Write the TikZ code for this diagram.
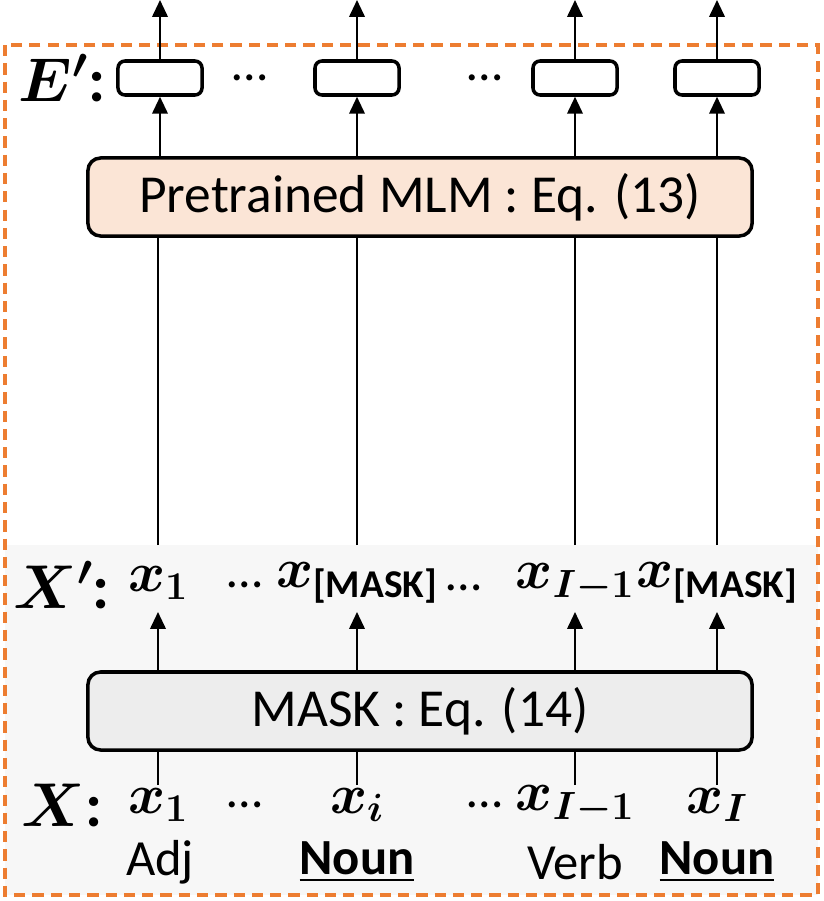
\RequirePackage{fix-cm}
\documentclass[tikz,border=0pt]{standalone}
\usepackage{amsmath,bm}
\usepackage{fontspec}
\setmainfont{Carlito}
\usetikzlibrary{arrows.meta}
\definecolor{peach}{HTML}{FBE5D6}
\definecolor{boxgray}{HTML}{EDEDED}
\definecolor{bggray}{HTML}{F7F7F7}
\definecolor{dashorange}{HTML}{ED7D31}
\tikzset{
  blk/.style={draw, line width=2.5pt, rounded corners=9pt, minimum width=16.6cm, minimum height=1.95cm, font=\fontsize{38}{44}\selectfont},
  outbox/.style={draw, line width=2.5pt, rounded corners=5pt, minimum width=2.1cm, minimum height=0.85cm},
  tok/.style={font=\fontsize{40}{46}\selectfont, inner sep=0pt},
  postag/.style={font=\fontsize{36}{42}\selectfont, inner sep=0pt},
  lbl/.style={font=\fontsize{44}{50}\selectfont, inner sep=0pt},
  arr/.style={line width=1.5pt, -{Triangle[length=12pt,width=11pt]}},
  ln/.style={line width=1.5pt}
}
\begin{document}
\begin{tikzpicture}[x=0.025cm,y=-0.025cm]
\useasboundingbox (0,0) rectangle (823,901);
\fill[bggray] (5,545) rectangle (818,895);
\draw[dashorange, line width=2.5pt, dash pattern=on 8pt off 5pt] (5,45) rectangle (818,895);
% blocks
\node[blk, fill=peach] (mlm) at (420,197) {Pretrained MLM : Eq. (13)};
\node[blk, fill=boxgray] (mask) at (420,711) {MASK : Eq. (14)};
% output row
\node[lbl] (elbl) at (62,78) {$\bm{E'}$\textbf{:}};
\foreach \n/\x in {o1/160,o2/357,o3/575,o4/717}{
  \node[outbox, fill=white] (\n) at (\x,78) {};
  \coordinate (t\n) at (\x,0);
  \draw[arr] (\n.north) -- (t\n);
  \draw[arr] (mlm.north -| \n) -- (\n.south);
}
\node[postag] (od1) at (250,78) {…};
\node[postag] (od2) at (485,78) {…};
% X' row
\node[lbl] (xplbl) at (62,585) {$\bm{X'}$\textbf{:}};
\node[tok] (p1) at (158,583) {$\bm{x_1}$};
\node[tok] (p2) at (357,583) {$\bm{x}_{\textbf{[MASK]}}$};
\node[tok] (p3) at (575,583) {$\bm{x_{I-1}}$};
\node[tok] (p4) at (717,583) {$\bm{x}_{\textbf{[MASK]}}$};
\node[postag] (pd1) at (245,585) {…};
\node[postag] (pd2) at (464,588) {…};
\foreach \n/\x in {p1/158,p2/357,p3/575,p4/717}{
  \draw[ln] (\x,545) -- (mlm.south -| \x,0);
  \draw[arr] (mask.north -| \x,0) -- (\x,612);
}
% X row
\node[lbl] (xlbl) at (62,805) {$\bm{X}$\textbf{:}};
\node[tok] (x1) at (158,805) {$\bm{x_1}$};
\node[tok] (x2) at (357,805) {$\bm{x_i}$};
\node[tok] (x3) at (575,805) {$\bm{x_{I-1}}$};
\node[tok] (x4) at (717,805) {$\bm{x_I}$};
\node[postag] (xd1) at (245,805) {…};
\node[postag] (xd2) at (485,805) {…};
\foreach \n/\x in {x1/158,x2/357,x3/575,x4/717}{
  \draw[ln] (\x,785) -- (mask.south -| \x,0);
}
\node[postag] (a1) at (160,862) {Adj};
\node[postag] (a2) at (357,862) {\underline{\textbf{Noun}}};
\node[postag] (a3) at (575,862) {Verb};
\node[postag] (a4) at (717,862) {\underline{\textbf{Noun}}};
\end{tikzpicture}
\end{document}
